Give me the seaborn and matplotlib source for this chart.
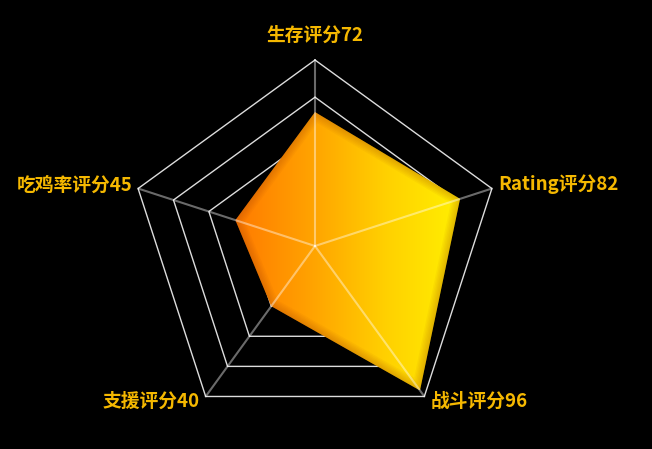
import numpy as np
import matplotlib
matplotlib.use("Agg")
import matplotlib.pyplot as plt
from matplotlib.colors import LinearSegmentedColormap
from matplotlib.patches import Polygon
import seaborn as sns

# radar data
indicators = ["生存", "Rating", "战斗", "支援", "吃鸡率"]
values = [72, 82, 96, 40, 45]
max_value = 100
ring_levels = [0.2, 0.4, 0.6, 0.8, 1.0]

sns.set_theme(style="dark")
plt.rcParams["font.family"] = ["Noto Sans CJK SC", "DejaVu Sans"]

W, H = 652, 449
cx, cy, R = 315, 246, 186


def to_xy(frac, i):
    a = np.deg2rad(90 - 72 * i)
    return cx + R * frac * np.cos(a), cy - R * frac * np.sin(a)


fig = plt.figure(figsize=(W / 100, H / 100), dpi=100, facecolor="black")
ax = fig.add_axes([0, 0, 1, 1])
ax.set_facecolor("black")
ax.set_xlim(0, W)
ax.set_ylim(H, 0)
ax.axis("off")

n = len(indicators)

# rings
for lv in ring_levels:
    pts = [to_xy(lv, i) for i in range(n)] + [to_xy(lv, 0)]
    xs, ys = zip(*pts)
    sns.lineplot(x=list(xs), y=list(ys), sort=False, estimator=None,
                 color="#dddddd", linewidth=1, ax=ax, zorder=1)

# filled area with horizontal gradient
poly_pts = [to_xy(v / max_value, i) for i, v in enumerate(values)]
poly = Polygon(poly_pts, closed=True, facecolor="none", edgecolor="none")
ax.add_patch(poly)
px = [p[0] for p in poly_pts]
py = [p[1] for p in poly_pts]
cmap = LinearSegmentedColormap.from_list("og", ["#ff7a00", "#ffa200", "#ffd000", "#fff000"])
grad = np.linspace(0, 1, 256).reshape(1, -1)
img = ax.imshow(grad, cmap=cmap, aspect="auto",
                extent=[min(px), max(px), max(py), min(py)], zorder=2,
                interpolation="bilinear")
img.set_clip_path(poly)

# soft inner shadow on edges
closed = poly_pts + [poly_pts[0]]
ex, ey = zip(*closed)
for lw in range(12, 0, -2):
    ln, = ax.plot(ex, ey, color="#a04000", linewidth=lw, alpha=0.05,
                  solid_joinstyle="round", zorder=3)
    ln.set_clip_path(poly)

# radial axis lines
for i in range(n):
    x1, y1 = to_xy(1.0, i)
    sns.lineplot(x=[cx, x1], y=[cy, y1], sort=False, estimator=None,
                 color="white", alpha=0.42, linewidth=1.5, ax=ax, zorder=4)

# labels
for i, (name, v) in enumerate(zip(indicators, values)):
    x, y = to_xy(1.0, i)
    text = f"{name}评分{v}"
    if i == 0:
        ax.text(x, y - 25, text, ha="center", va="center")
    elif i in (1, 2):
        ax.text(x + 6, y + (-4 if i == 1 else 5), text, ha="left", va="center")
    else:
        ax.text(x - 6, y + (5 if i == 3 else -3), text, ha="right", va="center")
for t in ax.texts:
    t.set_color("#f5b800")
    t.set_fontsize(13.5)
    t.set_fontweight("bold")
    t.set_zorder(5)

fig.savefig("out.png", dpi=100, facecolor="black")
